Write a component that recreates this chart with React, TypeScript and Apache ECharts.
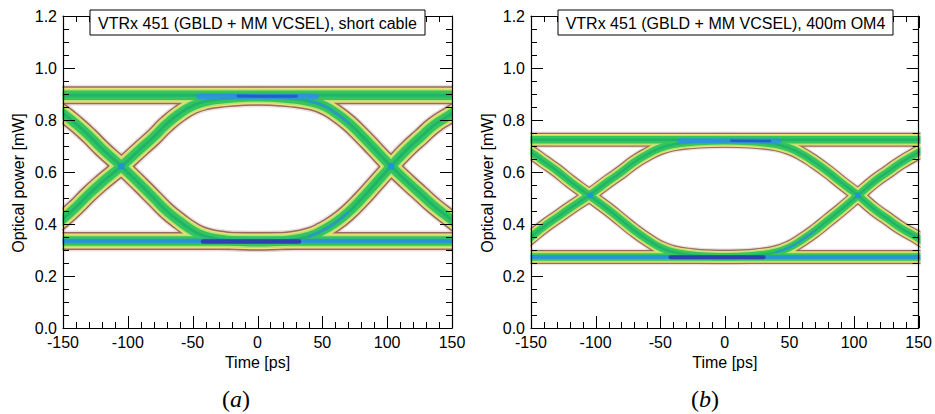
import React, { useEffect, useRef } from "react";
import * as echarts from "echarts";

// ---------- data ----------
const X_TICKS = [-150, -100, -50, 0, 50, 100, 150];
const Y_TICKS = [0, 0.2, 0.4, 0.6, 0.8, 1.0, 1.2];
const X_MINOR_PARTS = 5;
const Y_MINOR_PARTS = 4;

// time samples for the two transition arcs (ps)
const ARC_T = [-160, -150, -140, -130, -120, -105, -90, -80, -70, -60, -50, -40, -25, -10, 0, 10, 25, 40, 50, 60, 70, 80, 90, 103, 116, 126, 136, 150, 160];
const RAIL_T = [-160, 160];

// panel (a): short cable
const A_UPPER_ARC = [0.38, 0.42, 0.465, 0.515, 0.56, 0.622, 0.69, 0.735, 0.785, 0.825, 0.855, 0.872, 0.883, 0.888, 0.889, 0.888, 0.883, 0.872, 0.857, 0.828, 0.79, 0.742, 0.69, 0.622, 0.56, 0.515, 0.47, 0.415, 0.375];
const A_LOWER_ARC = [0.86, 0.825, 0.785, 0.74, 0.69, 0.622, 0.55, 0.5, 0.45, 0.41, 0.375, 0.352, 0.338, 0.333, 0.332, 0.333, 0.338, 0.353, 0.375, 0.405, 0.445, 0.495, 0.55, 0.622, 0.69, 0.735, 0.78, 0.825, 0.86];
const A_TOP_RAIL = [0.895, 0.895];
const A_BOTTOM_RAIL = [0.335, 0.335];
const A_TOP_BLUE_T = [-45, 45];
const A_TOP_BLUE = [0.891, 0.89];
const A_TOP_DARK_T = [-15, 30];
const A_TOP_DARK = [0.892, 0.891];
const A_BOTTOM_DARK_T = [-42, 32];
const A_BOTTOM_DARK = [0.333, 0.333];
const A_CROSS_T = [-105, 103];
const A_CROSS_V = [0.622, 0.622];

// panel (b): 400 m OM4
const B_UPPER_ARC = [0.31, 0.35, 0.39, 0.425, 0.46, 0.51, 0.565, 0.6, 0.638, 0.668, 0.692, 0.706, 0.715, 0.719, 0.72, 0.719, 0.715, 0.706, 0.692, 0.668, 0.636, 0.6, 0.56, 0.51, 0.455, 0.42, 0.385, 0.345, 0.31];
const B_LOWER_ARC = [0.7, 0.675, 0.64, 0.605, 0.565, 0.51, 0.455, 0.415, 0.375, 0.34, 0.31, 0.292, 0.28, 0.275, 0.274, 0.275, 0.28, 0.292, 0.31, 0.34, 0.375, 0.415, 0.455, 0.51, 0.565, 0.6, 0.635, 0.675, 0.7];
const B_TOP_RAIL = [0.724, 0.724];
const B_BOTTOM_RAIL = [0.273, 0.273];
const B_TOP_BLUE_T = [-35, 42];
const B_TOP_BLUE = [0.72, 0.719];
const B_TOP_DARK_T = [5, 35];
const B_TOP_DARK = [0.72, 0.719];
const B_BOTTOM_DARK_T = [-42, 30];
const B_BOTTOM_DARK = [0.272, 0.272];
const B_CROSS_T = [-104, 103];
const B_CROSS_V = [0.51, 0.51];

const TITLES = ["VTRx 451 (GBLD + MM VCSEL), short cable", "VTRx 451 (GBLD + MM VCSEL), 400m OM4"];
const PANEL_TAGS = ["a", "b"];
const X_NAME = "Time [ps]";
const Y_NAME = "Optical power [mW]";

// ---------- styling ----------
const FONT = "Liberation Sans, Arial, Helvetica, sans-serif";
const LAYERS = [
  { w: 21, c: "rgba(200,165,165,0.35)" },
  { w: 18, c: "#9a6a5c" },
  { w: 15, c: "#ebe07c" },
  { w: 12.5, c: "#b9e36c" },
  { w: 9.5, c: "#35c55c" },
  { w: 3, c: "#1fb46c" },
];

const zip = (t: number[], v: number[]) => t.map((x, i) => [x, v[i]]);

// tick table: [value, length, kind(0 = x, 1 = y)]
function tickTable(ticks: number[], parts: number, kind: number) {
  const out: number[][] = [];
  ticks.forEach((v, i) => {
    out.push([v, 12, kind]);
    if (i < ticks.length - 1) {
      const step = (ticks[i + 1] - v) / parts;
      for (let k = 1; k < parts; k++) out.push([v + k * step, 6, kind]);
    }
  });
  return out;
}
const TICK_DATA = [...tickTable(X_TICKS, X_MINOR_PARTS, 0), ...tickTable(Y_TICKS, Y_MINOR_PARTS, 1)];

function tickSeries(ax: number) {
  const xMin = X_TICKS[0], xMax = X_TICKS[X_TICKS.length - 1];
  const yMin = Y_TICKS[0], yMax = Y_TICKS[Y_TICKS.length - 1];
  return {
    type: "custom",
    xAxisIndex: ax,
    yAxisIndex: ax,
    data: TICK_DATA,
    silent: true,
    clip: false,
    z: 30,
    renderItem: (params: any, api: any) => {
      const v = api.value(0);
      const len = api.value(1);
      const kind = api.value(2);
      const st = { stroke: "#000", lineWidth: 1 };
      if (kind === 0) {
        const b = api.coord([v, yMin]);
        const t = api.coord([v, yMax]);
        const x = Math.round(b[0]) + 0.5;
        return {
          type: "group",
          children: [
            { type: "line", shape: { x1: x, y1: b[1], x2: x, y2: b[1] - len }, style: st },
            { type: "line", shape: { x1: x, y1: t[1], x2: x, y2: t[1] + len }, style: st },
          ],
        };
      }
      const l = api.coord([xMin, v]);
      const r = api.coord([xMax, v]);
      const y = Math.round(l[1]) + 0.5;
      return {
        type: "group",
        children: [
          { type: "line", shape: { x1: l[0], y1: y, x2: l[0] + len, y2: y }, style: st },
          { type: "line", shape: { x1: r[0], y1: y, x2: r[0] - len, y2: y }, style: st },
        ],
      };
    },
  };
}

function panelSeries(ax: number, scale: number, traces: number[][][], blues: any[]) {
  const out: any[] = [];
  LAYERS.forEach((L, li) => {
    traces.forEach((data) => {
      out.push({
        type: "line", xAxisIndex: ax, yAxisIndex: ax, data, symbol: "none", showSymbol: false,
        smooth: 0.5, silent: true, z: 2 + li,
        lineStyle: { width: L.w * scale, color: L.c, cap: "round", join: "round" },
      });
    });
  });
  blues.forEach((b) => out.push({ ...b, xAxisIndex: ax, yAxisIndex: ax, silent: true, z: 10 }));
  out.push(tickSeries(ax));
  return out;
}

function blueLine(data: number[][], width: number, color: string, opacity = 0.9) {
  return {
    type: "line", data, symbol: "none", showSymbol: false, smooth: 0.5,
    lineStyle: { width, color, cap: "round", opacity },
  };
}

function xAxisDef(gridIndex: number, pos: string, labels: boolean) {
  const o: any = {
    type: "value", gridIndex, position: pos,
    min: X_TICKS[0], max: X_TICKS[X_TICKS.length - 1], interval: 50, z: 20,
    axisLine: { show: true, onZero: false, lineStyle: { color: "#000", width: 1.2 } },
    axisTick: { show: false },
    minorTick: { show: false },
    splitLine: { show: false },
    axisLabel: labels ? { show: true, fontSize: 16, color: "#000", fontFamily: FONT, margin: 6 } : { show: false },
  };
  if (labels) {
    o.name = X_NAME; o.nameLocation = "middle"; o.nameGap = 24;
    o.nameTextStyle = { fontSize: 16, color: "#000", fontFamily: FONT };
  }
  return o;
}

function yAxisDef(gridIndex: number, pos: string, labels: boolean) {
  return {
    type: "value", gridIndex, position: pos,
    min: Y_TICKS[0], max: Y_TICKS[Y_TICKS.length - 1], interval: 0.2, z: 20,
    axisLine: { show: true, onZero: false, lineStyle: { color: "#000", width: 1.2 } },
    axisTick: { show: false },
    minorTick: { show: false },
    splitLine: { show: false },
    axisLabel: labels
      ? { show: true, fontSize: 16, color: "#000", fontFamily: FONT, margin: 6, formatter: (v: number) => v.toFixed(1) }
      : { show: false },
  };
}

export default function App() {
  const ref = useRef<HTMLDivElement>(null);
  useEffect(() => {
    if (!ref.current) return;
    const chart = echarts.init(ref.current, undefined, { renderer: "svg" });

    const seriesA = panelSeries(0, 1,
      [zip(RAIL_T, A_TOP_RAIL), zip(RAIL_T, A_BOTTOM_RAIL), zip(ARC_T, A_UPPER_ARC), zip(ARC_T, A_LOWER_ARC)],
      [
        blueLine(zip(RAIL_T, A_BOTTOM_RAIL), 4.5, "#2a8ee6", 0.85),
        blueLine(zip(A_BOTTOM_DARK_T, A_BOTTOM_DARK), 4.5, "#2c3aa8"),
        blueLine(zip(A_TOP_BLUE_T, A_TOP_BLUE), 6, "#2f8cf0", 0.8),
        blueLine(zip(A_TOP_DARK_T, A_TOP_DARK), 3, "#2050c0", 0.8),
        blueLine(zip(ARC_T.slice(17, 21), A_UPPER_ARC.slice(17, 21)), 3, "#2f8cf0", 0.6),
        blueLine(zip(ARC_T.slice(17, 21), A_LOWER_ARC.slice(17, 21)), 3, "#2f8cf0", 0.6),
        { type: "scatter", data: zip(A_CROSS_T, A_CROSS_V), symbolSize: 7, itemStyle: { color: "#1e8ee8" } },
      ]);
    const seriesB = panelSeries(2, 0.78,
      [zip(RAIL_T, B_TOP_RAIL), zip(RAIL_T, B_BOTTOM_RAIL), zip(ARC_T, B_UPPER_ARC), zip(ARC_T, B_LOWER_ARC)],
      [
        blueLine(zip(RAIL_T, B_BOTTOM_RAIL), 4, "#2a8ee6", 0.85),
        blueLine(zip(B_BOTTOM_DARK_T, B_BOTTOM_DARK), 4, "#2c3aa8"),
        blueLine(zip(B_TOP_BLUE_T, B_TOP_BLUE), 5, "#2f8cf0", 0.8),
        blueLine(zip(B_TOP_DARK_T, B_TOP_DARK), 2.5, "#2050c0", 0.8),
        blueLine(zip(ARC_T.slice(17, 21), B_LOWER_ARC.slice(17, 21)), 2.5, "#2f8cf0", 0.6),
        { type: "scatter", data: zip(B_CROSS_T, B_CROSS_V), symbolSize: 6, itemStyle: { color: "#1e8ee8" } },
      ]);

    const titleBox = (x: number, text: string) => [
      { type: "rect", z: 100, shape: { x, y: 10, width: 335, height: 25 }, style: { fill: "#fff", stroke: "#000", lineWidth: 1 } },
      { type: "text", z: 101, x: x + 167.5, y: 23,
        style: { text, fontSize: 16, fontFamily: FONT, fill: "#000", align: "center", verticalAlign: "middle" } },
    ];
    const yName = (x: number) => ({
      type: "text", x, y: 183, rotation: Math.PI / 2,
      style: { text: Y_NAME, fontSize: 16, fontFamily: FONT, fill: "#000", align: "center", verticalAlign: "middle" },
    });
    const tag = (x: number, letter: string) => ({
      type: "text", x, y: 399,
      style: {
        text: "{p|(}{i|" + letter + "}{p|)}", align: "center", verticalAlign: "middle",
        rich: {
          p: { fontSize: 24, fontFamily: "Liberation Serif, DejaVu Serif, serif", fill: "#000" },
          i: { fontSize: 24, fontStyle: "italic", fontFamily: "Liberation Serif, DejaVu Serif, serif", fill: "#000" },
        },
      },
    });
    // white strips just outside the plot frames (under the axes) hiding the stroke overflow of the bands
    const mask = (x: number, w: number) => ({
      type: "rect", z: 15, silent: true, shape: { x, y: 16, width: w, height: 312 }, style: { fill: "#fff" },
    });

    chart.setOption({
      animation: false,
      backgroundColor: "#fff",
      grid: [
        { left: 63, top: 16, width: 389, height: 312 },
        { left: 531, top: 16, width: 389, height: 312 },
      ],
      xAxis: [xAxisDef(0, "bottom", true), xAxisDef(0, "top", false), xAxisDef(1, "bottom", true), xAxisDef(1, "top", false)],
      yAxis: [yAxisDef(0, "left", true), yAxisDef(0, "right", false), yAxisDef(1, "left", true), yAxisDef(1, "right", false)],
      series: [...seriesA, ...seriesB],
      graphic: [
        mask(40, 22.4), mask(452.6, 22), mask(505, 25.4), mask(920.6, 14.4),
        ...titleBox(90, TITLES[0]), ...titleBox(558, TITLES[1]),
        yName(18), yName(487),
        tag(236, PANEL_TAGS[0]), tag(705, PANEL_TAGS[1]),
      ],
    });
    return () => chart.dispose();
  }, []);
  return <div ref={ref} style={{ position: "absolute", left: 0, top: 0, width: 935, height: 414 }} />;
}
